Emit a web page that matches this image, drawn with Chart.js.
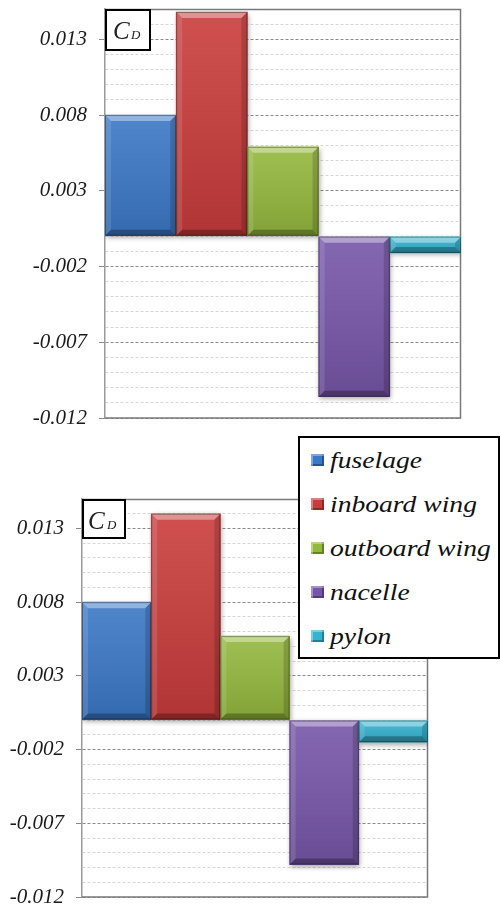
<!DOCTYPE html>
<html>
<head>
<meta charset="utf-8">
<script src="https://cdn.jsdelivr.net/npm/chart.js@4.4.1/dist/chart.umd.min.js"></script>
<style>
  html, body { margin: 0; padding: 0; background: #fff; }
  body { width: 500px; height: 904px; position: relative; overflow: hidden; }
  canvas { position: absolute; left: 0; }
  #cdTop { top: 0; }
  #cdBottom { top: 430px; }
  #legend {
    position: absolute; left: 298px; top: 436px; width: 198px; height: 219px;
    border: 2px solid #000; background: #fff; z-index: 5;
    font-family: 'Liberation Serif', serif;
    font-style: italic; font-size: 24px;
  }
  .row { height: 44px; display: flex; align-items: center; white-space: nowrap; }
  .swatch {
    width: 13px; height: 12px; margin-left: 11px; margin-right: 6px; flex: none;
    box-shadow: inset 2px 2px 0 rgba(255,255,255,0.35), inset -2px -2px 0 rgba(0,0,0,0.3);
  }
  .txt { display: inline-block; transform: scaleX(1.15); transform-origin: left center; color: #111; }
</style>
</head>
<body>
<canvas id="cdTop" width="500" height="430"></canvas>
<canvas id="cdBottom" width="500" height="474"></canvas>
<div id="legend"></div>

<script>
// components and drag coefficient contributions
const categories = ['fuselage', 'inboard wing', 'outboard wing', 'nacelle', 'pylon'];
const cdUpper = [0.0080, 0.0148, 0.0059, -0.0106, -0.0011];
const cdLower = [0.0080, 0.0140, 0.0057, -0.0098, -0.0015];
const barColors = ['#3b78c6', '#c93c3b', '#94b83e', '#7656a8', '#35b3d0'];

// axis range: labelled every 0.005 starting at -0.012, grid every 0.001
const yMin = -0.012;
const yMax = 0.015;
const yStep = 0.001;

const serif = "'Liberation Serif', serif";

function isMajor(v) {
  return (Math.round(v * 1000) + 12) % 5 === 0;
}

// frame round the plot, drop shadow and bevelled faces on the bars
const bevelBars = {
  id: 'bevelBars',
  beforeDatasetsDraw(chart) {
    const c = chart.ctx;
    const a = chart.chartArea;
    c.save();
    c.strokeStyle = '#7a7a7a';
    c.lineWidth = 1.5;
    c.beginPath();
    c.moveTo(a.left, a.top + 0.5);
    c.lineTo(a.right - 0.5, a.top + 0.5);
    c.lineTo(a.right - 0.5, a.bottom);
    c.lineTo(a.left, a.bottom);
    c.stroke();
    c.restore();

    c.save();
    c.shadowColor = 'rgba(0,0,0,0.35)';
    c.shadowBlur = 5;
    c.shadowOffsetX = 1;
    c.shadowOffsetY = 2;
  },
  afterDatasetsDraw(chart) {
    const c = chart.ctx;
    c.restore();
    chart.getDatasetMeta(0).data.forEach(bar => {
      const p = bar.getProps(['x', 'y', 'base', 'width'], true);
      const l = p.x - p.width / 2, r = p.x + p.width / 2;
      const t = Math.min(p.y, p.base), b = Math.max(p.y, p.base);
      const e = Math.min(6, (b - t) / 2);

      const g = c.createLinearGradient(0, t, 0, b);
      g.addColorStop(0, 'rgba(255,255,255,0.10)');
      g.addColorStop(1, 'rgba(0,0,0,0.12)');
      c.fillStyle = g;
      c.fillRect(l, t, r - l, b - t);

      const quad = (pts, col) => {
        c.beginPath();
        c.moveTo(pts[0][0], pts[0][1]);
        for (let i = 1; i < pts.length; i++) c.lineTo(pts[i][0], pts[i][1]);
        c.closePath();
        c.fillStyle = col;
        c.fill();
      };
      quad([[l, t], [r, t], [r - e, t + e], [l + e, t + e]], 'rgba(255,255,255,0.38)');
      quad([[l, t], [l + e, t + e], [l + e, b - e], [l, b]], 'rgba(255,255,255,0.12)');
      quad([[r, t], [r, b], [r - e, b - e], [r - e, t + e]], 'rgba(0,0,0,0.16)');
      quad([[l, b], [l + e, b - e], [r - e, b - e], [r, b]], 'rgba(0,0,0,0.28)');

      c.strokeStyle = 'rgba(0,0,0,0.35)';
      c.lineWidth = 1;
      c.strokeRect(l + 0.5, t + 0.5, r - l - 1, b - t - 1);
    });
  }
};

// boxed C_D title in the top-left corner of the plot
const cdBox = {
  id: 'cdBox',
  afterDraw(chart, args, opts) {
    const c = chart.ctx;
    const { left, top } = chart.chartArea;
    c.save();
    c.fillStyle = '#fff';
    c.fillRect(left, top, opts.w, opts.h);
    c.strokeStyle = '#000';
    c.lineWidth = 2;
    c.strokeRect(left + 1, top + 1, opts.w - 2, opts.h - 2);
    c.fillStyle = '#222';
    c.textBaseline = 'alphabetic';
    c.font = 'italic 25px ' + serif;
    c.fillText('C', left + opts.cx, top + 30);
    c.font = 'italic 13px ' + serif;
    c.fillText('D', left + opts.dx, top + 30);
    c.restore();
  }
};

function makeChart(id, values, pad, axisWidth, box) {
  return new Chart(document.getElementById(id), {
    type: 'bar',
    data: {
      labels: categories,
      datasets: [{
        data: values,
        backgroundColor: barColors,
        borderWidth: 0,
        categoryPercentage: 1,
        barPercentage: 1
      }]
    },
    options: {
      responsive: false,
      animation: false,
      devicePixelRatio: 1,
      layout: { padding: pad },
      plugins: {
        legend: { display: false },
        tooltip: { enabled: false },
        cdBox: box
      },
      scales: {
        x: { display: false },
        y: {
          min: yMin,
          max: yMax,
          afterFit(scale) {
            scale.width = axisWidth;
            scale.paddingTop = 0;
            scale.paddingBottom = 0;
          },
          ticks: {
            stepSize: yStep,
            autoSkip: false,
            padding: 12,
            color: '#1a1a1a',
            font: { family: serif, style: 'italic', size: 21 },
            callback: v => (isMajor(v) ? v.toFixed(3) : '')
          },
          grid: {
            color: ctx => (isMajor(ctx.tick.value) ? '#8a8a8a' : '#d6d6d6'),
            tickColor: ctx => (isMajor(ctx.tick.value) ? '#8a8a8a' : 'rgba(0,0,0,0)'),
            tickLength: 6,
            lineWidth: 1
          },
          border: { color: '#9a9a9a', width: 1.5, dash: [3, 2] }
        }
      }
    },
    plugins: [bevelBars, cdBox]
  });
}

function drawAll() {
  makeChart('cdTop', cdUpper, { left: 0, top: 9, right: 39, bottom: 12 }, 105,
    { w: 46, h: 42, cx: 8, dx: 26 });
  makeChart('cdBottom', cdLower, { left: 0, top: 69, right: 72, bottom: 7 }, 82,
    { w: 44, h: 40, cx: 6, dx: 25 });

  // legend, one row per component
  const legend = document.getElementById('legend');
  categories.forEach((name, i) => {
    const row = document.createElement('div');
    row.className = 'row';
    const sw = document.createElement('span');
    sw.className = 'swatch';
    sw.style.background = barColors[i];
    const tx = document.createElement('span');
    tx.className = 'txt';
    tx.textContent = name;
    row.appendChild(sw);
    row.appendChild(tx);
    legend.appendChild(row);
  });
}

// make sure the serif face is ready before the canvases paint text
Promise.all([
  document.fonts.load("italic 21px 'Liberation Serif'"),
  document.fonts.load("italic 24px 'Liberation Serif'")
]).then(drawAll, drawAll);
</script>
</body>
</html>
